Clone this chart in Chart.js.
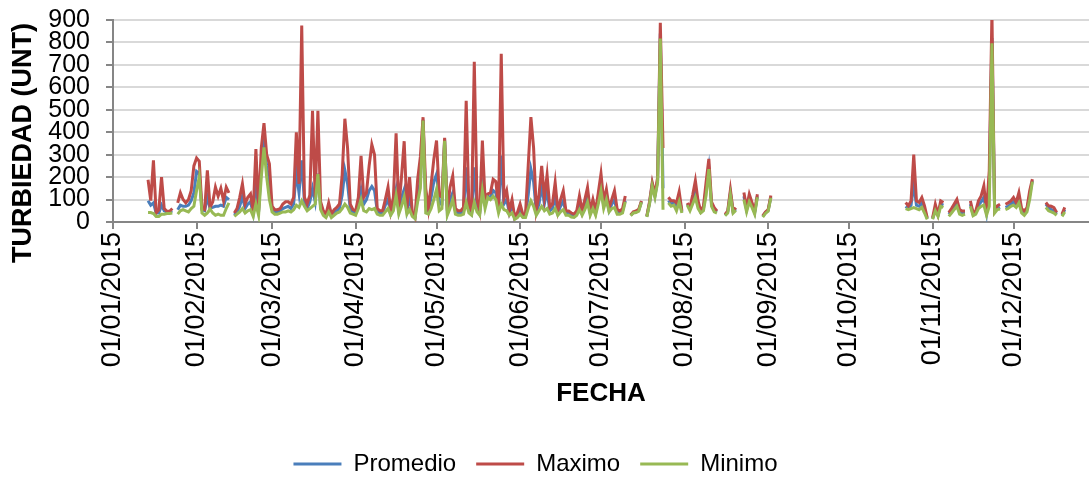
<!DOCTYPE html>
<html>
<head>
<meta charset="utf-8">
<title>Turbiedad 2015</title>
<script src="https://cdn.jsdelivr.net/npm/chart.js@4.4.1/dist/chart.umd.min.js"></script>
<style>
  html, body { margin: 0; padding: 0; background: #ffffff; overflow: hidden; }
  canvas { display: block; }
</style>
</head>
<body>
<canvas id="grafico" width="1089" height="478"></canvas>
<script>
// Daily series start on this day of the year (0 = 01/01/2015); null = no record that day.
const primerDia = 13;

// Turbidity (UNT), one value per day from day 13 to day 353
const maximo = [
  188, 95, 275, 40, 55, 200, 60, 48, 48, 60,            // 13-22
  null, 85, 130, 100, 85, 100, 140, 250, 285, 270,      // 23-32
  60, 55, 230, 65, 90, 155, 115, 150, 95, 155,          // 33-42
  130, null, 40, 60, 110, 170, 80, 110, 125, 45,        // 43-52
  325, 50, 330, 440, 300, 260, 70, 55, 55, 60,          // 53-62
  80, 90, 90, 80, 110, 400, 170, 875, 110, 80,          // 63-72
  120, 495, 110, 495, 90, 50, 35, 85, 35, 55,           // 73-82
  65, 80, 210, 460, 330, 80, 55, 50, 110, 295,          // 83-92
  110, 130, 250, 345, 300, 60, 50, 50, 100, 155,        // 93-102
  50, 110, 395, 60, 200, 360, 60, 200, 45, 20,          // 103-112
  190, 290, 467, 150, 60, 169, 280, 363, 120, 110,      // 113-122
  375, 50, 155, 205, 60, 50, 50, 65, 540, 75,           // 123-132
  50, 714, 100, 50, 363, 100, 125, 130, 190, 180,       // 133-142
  65, 750, 105, 140, 50, 100, 20, 42, 80, 35,           // 143-152
  35, 250, 467, 330, 55, 120, 250, 110, 210, 65,        // 153-162
  80, 176, 50, 100, 139, 49, 49, 40, 35, 50,            // 163-172
  116, 49, 100, 154, 49, 101, 49, 130, 215, 94,         // 173-182
  146, 64, 100, 139, 57, 49, 60, 116, null, 31,         // 183-192
  45, 49, 57, 94, null, 27, 90, 176, 124, 199,          // 193-202
  888, 330, null, 110, 95, 95, 85, 135, 50, null,       // 203-212
  85, 64, 120, 184, 94, 49, 70, 180, 281, 90,           // 213-222
  64, 49, null, null, 34, 49, 143, 49, 64, null,        // 223-232
  null, 131, 64, 124, 87, 49, 124, null, 27, 45,        // 233-242
  55, 118, null, null, null, null, null, null, null, null, // 243-252
  null, null, null, null, null, null, null, null, null, null, // 253-262
  null, null, null, null, null, null, null, null, null, null, // 263-272
  null, null, null, null, null, null, null, null, null, null, // 273-282
  null, null, null, null, null, null, null, null, null, null, // 283-292
  null, 87, 72, 94, 300, 94, 87, 109, 72, 19,           // 293-302
  null, 19, 79, 34, 94, 87, null, 42, 60, 80,           // 303-312
  101, 55, 49, 49, null, 94, 42, 49, 94, 116,           // 313-322
  161, 49, 228, 930, 49, 72, 79, null, 79, 85,          // 323-332
  94, 109, 87, 131, 60, 49, 64, 139, 191, null,         // 333-342
  null, null, null, 87, 72, 70, 64, 42, null, 35,       // 343-352
  65                                                    // 353
];

const promedio = [
  95, 75, 85, 40, 40, 75, 50, 45, 45, 50,
  null, 55, 75, 70, 70, 75, 95, 130, 225, 215,
  55, 50, 110, 62, 65, 70, 70, 75, 70, 110,
  100, null, 30, 45, 70, 115, 60, 80, 90, 40,
  170, 45, 250, 350, 250, 170, 60, 45, 45, 50,
  60, 65, 70, 60, 80, 225, 130, 275, 90, 60,
  90, 150, 90, 215, 70, 40, 30, 60, 30, 40,
  50, 60, 120, 230, 170, 60, 45, 40, 80, 145,
  80, 100, 140, 158, 140, 50, 40, 40, 75, 100,
  40, 80, 145, 50, 110, 145, 50, 110, 40, 20,
  120, 180, 455, 70, 50, 110, 180, 213, 80, 80,
  368, 45, 100, 130, 50, 40, 40, 50, 243, 60,
  40, 243, 70, 40, 160, 80, 115, 110, 140, 130,
  50, 296, 80, 100, 40, 75, 15, 30, 55, 25,
  25, 120, 236, 180, 45, 80, 161, 80, 140, 50,
  60, 110, 40, 70, 95, 40, 40, 30, 25, 40,
  85, 40, 70, 110, 40, 75, 40, 100, 154, 75,
  110, 50, 79, 100, 45, 40, 50, 95, null, 30,
  42, 45, 52, 90, null, 25, 85, 168, 116, 185,
  840, 150, null, 95, 80, 85, 70, 110, 45, null,
  80, 60, 100, 150, 80, 45, 60, 150, 240, 80,
  55, 45, null, null, 30, 45, 130, 45, 58, null,
  null, 115, 55, 105, 75, 42, 115, null, 25, 42,
  52, 112, null, null, null, null, null, null, null, null,
  null, null, null, null, null, null, null, null, null, null,
  null, null, null, null, null, null, null, null, null, null,
  null, null, null, null, null, null, null, null, null, null,
  null, null, null, null, null, null, null, null, null, null,
  null, 70, 60, 75, 169, 75, 70, 85, 55, 15,
  null, 15, 60, 30, 80, 75, null, 35, 50, 65,
  85, 45, 40, 40, null, 80, 35, 42, 75, 90,
  110, 40, 150, 820, 45, 60, 65, null, 65, 70,
  80, 90, 75, 105, 50, 40, 55, 120, 185, null,
  null, null, null, 80, 65, 55, 50, 35, null, 30,
  55
];

const minimo = [
  42, 42, 38, 25, 25, 35, 35, 38, 38, 40,
  null, 35, 50, 55, 50, 45, 60, 70, 140, 200,
  40, 30, 40, 58, 40, 30, 35, 30, 30, 60,
  85, null, 25, 35, 45, 60, 40, 50, 55, 25,
  80, 30, 200, 333, 200, 100, 45, 35, 35, 40,
  45, 45, 50, 45, 55, 75, 65, 94, 70, 50,
  60, 70, 80, 213, 55, 30, 20, 45, 20, 30,
  40, 45, 60, 80, 65, 40, 35, 30, 60, 100,
  50, 45, 60, 55, 60, 35, 30, 30, 45, 60,
  30, 50, 119, 35, 70, 112, 35, 55, 25, 15,
  90, 150, 452, 40, 35, 60, 100, 146, 50, 60,
  362, 30, 60, 100, 35, 30, 30, 35, 87, 40,
  30, 87, 45, 30, 139, 60, 110, 100, 115, 100,
  40, 80, 55, 50, 30, 40, 12, 20, 35, 20,
  20, 60, 94, 70, 30, 50, 70, 50, 60, 35,
  40, 60, 30, 45, 55, 30, 30, 22, 20, 30,
  55, 30, 55, 87, 30, 60, 30, 80, 139, 60,
  100, 45, 60, 64, 35, 35, 40, 90, null, 28,
  40, 42, 48, 88, null, 22, 80, 160, 110, 175,
  818, 55, null, 85, 70, 75, 50, 90, 40, null,
  75, 50, 80, 110, 60, 40, 50, 120, 236, 70,
  45, 40, null, null, 28, 40, 120, 40, 52, null,
  null, 100, 45, 90, 65, 35, 110, null, 22, 38,
  48, 108, null, null, null, null, null, null, null, null,
  null, null, null, null, null, null, null, null, null, null,
  null, null, null, null, null, null, null, null, null, null,
  null, null, null, null, null, null, null, null, null, null,
  null, null, null, null, null, null, null, null, null, null,
  null, 60, 55, 60, 64, 60, 55, 65, 40, 12,
  null, 12, 50, 25, 70, 65, null, 25, 40, 55,
  70, 35, 30, 35, null, 70, 28, 35, 60, 70,
  75, 30, 70, 796, 40, 55, 58, null, 55, 60,
  70, 75, 65, 85, 40, 30, 45, 100, 180, null,
  null, null, null, 65, 50, 45, 40, 30, null, 25,
  45
];

// Month tick labels on the date axis
const etiquetasMes = [
  '01/01/2015', '01/02/2015', '01/03/2015', '01/04/2015', '01/05/2015', '01/06/2015',
  '01/07/2015', '01/08/2015', '01/09/2015', '01/10/2015', '01/11/2015', '01/12/2015'
];
// Turbidity axis range
const turbMin = 0, turbMax = 900, turbPaso = 100;

// Day-of-year for each month label
const diasMes = etiquetasMes.map(t => {
  const [d, m, a] = t.split('/').map(Number);
  return Math.round((Date.UTC(a, m - 1, d) - Date.UTC(2015, 0, 1)) / 86400000);
});

const FUENTE = "'Liberation Sans', Arial, Helvetica, sans-serif";
Chart.defaults.font.family = FUENTE;
Chart.defaults.color = '#000000';

const puntos = serie => serie.map((v, i) => ({ x: primerDia + i, y: v }));

// Vertical axis title, drawn beside the value labels
const tituloVertical = {
  id: 'tituloVertical',
  afterDraw(chart) {
    const { ctx, chartArea } = chart;
    ctx.save();
    ctx.translate(24, chartArea.top + 123);
    ctx.rotate(-Math.PI / 2);
    ctx.font = 'bold 27px ' + FUENTE;
    ctx.fillStyle = '#000000';
    ctx.textAlign = 'center';
    ctx.textBaseline = 'middle';
    ctx.fillText('TURBIEDAD (UNT)', 0, 0);
    ctx.restore();
  }
};

// Nudge the legend row slightly left of the canvas centre
const desplazaLeyenda = {
  id: 'desplazaLeyenda',
  afterLayout(chart) {
    if (chart.legend) {
      chart.legend.left -= 9;
      chart.legend.right -= 9;
    }
  }
};

const estiloLinea = {
  borderWidth: 3,
  pointRadius: 0,
  pointHoverRadius: 0,
  tension: 0,
  spanGaps: false,
  fill: false
};

new Chart(document.getElementById('grafico'), {
  type: 'line',
  data: {
    datasets: [
      { label: 'Promedio', data: puntos(promedio), borderColor: '#4a7ebb', backgroundColor: '#4a7ebb', order: 3, ...estiloLinea },
      { label: 'Maximo', data: puntos(maximo), borderColor: '#be4b48', backgroundColor: '#be4b48', order: 2, ...estiloLinea },
      { label: 'Minimo', data: puntos(minimo), borderColor: '#98b954', backgroundColor: '#98b954', order: 1, ...estiloLinea }
    ]
  },
  options: {
    responsive: false,
    animation: false,
    devicePixelRatio: 1,
    layout: { padding: { top: 20, right: 0, bottom: -8, left: 0 } },
    scales: {
      x: {
        type: 'linear',
        position: 'bottom',
        min: 0,
        max: 362,
        afterBuildTicks: s => { s.ticks = diasMes.map(v => ({ value: v })); },
        afterFit: s => { s.height = 210; },
        ticks: {
          autoSkip: false,
          minRotation: 90,
          maxRotation: 90,
          padding: 3,
          color: '#000000',
          font: { size: 27 },
          callback: (v, i) => etiquetasMes[i]
        },
        grid: { drawOnChartArea: false, drawTicks: true, tickLength: 7, color: '#868686', lineWidth: 2 },
        border: { color: '#868686', width: 2 },
        title: {
          display: true,
          text: 'FECHA',
          color: '#000000',
          font: { size: 26, weight: 'bold' },
          padding: { top: 0, bottom: 23 }
        }
      },
      y: {
        min: turbMin,
        max: turbMax,
        afterFit: s => { s.width = 113; s.paddingTop = 12; s.paddingBottom = 0; },
        ticks: {
          stepSize: turbPaso,
          autoSkip: false,
          padding: 16,
          color: '#000000',
          font: { size: 25, lineHeight: 1 }
        },
        grid: { color: '#d9d9d9', lineWidth: 2, tickColor: '#868686', tickLength: 7 },
        border: { color: '#868686', width: 2 }
      }
    },
    plugins: {
      tooltip: { enabled: false },
      legend: {
        position: 'bottom',
        labels: {
          usePointStyle: true,
          pointStyle: 'line',
          pointStyleWidth: 48,
          padding: 20,
          color: '#000000',
          font: { size: 24 },
          sort: (a, b) => a.datasetIndex - b.datasetIndex
        }
      }
    }
  },
  plugins: [tituloVertical, desplazaLeyenda]
});
</script>
</body>
</html>
